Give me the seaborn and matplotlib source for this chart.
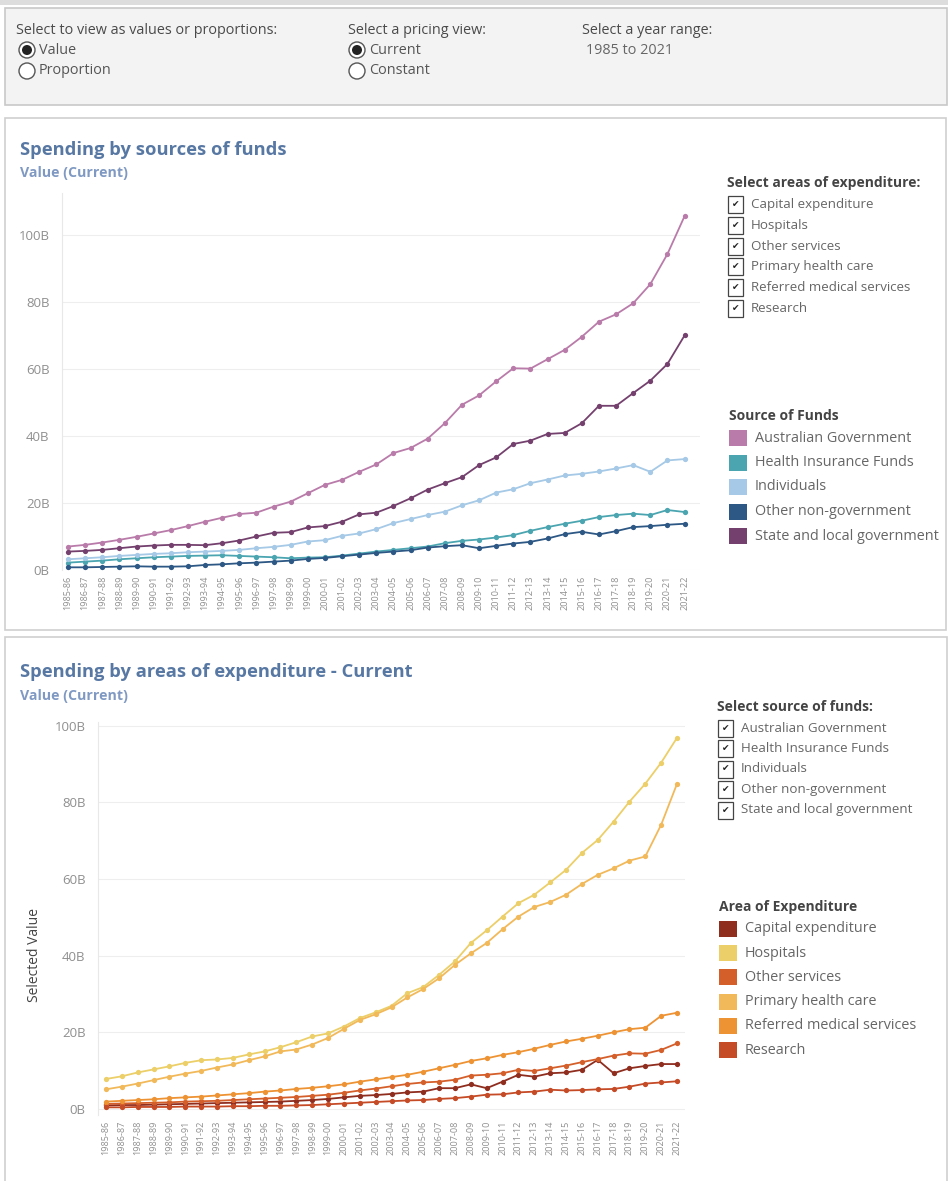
import numpy as np
import pandas as pd
import seaborn as sns
import matplotlib.pyplot as plt
from matplotlib.patches import Rectangle, Circle

# ---- data (billions) ----
years = ["1985-86", "1986-87", "1987-88", "1988-89", "1989-90", "1990-91", "1991-92", "1992-93",
         "1993-94", "1994-95", "1995-96", "1996-97", "1997-98", "1998-99", "1999-00", "2000-01",
         "2001-02", "2002-03", "2003-04", "2004-05", "2005-06", "2006-07", "2007-08", "2008-09",
         "2009-10", "2010-11", "2011-12", "2012-13", "2013-14", "2014-15", "2015-16", "2016-17",
         "2017-18", "2018-19", "2019-20", "2020-21", "2021-22"]

aus_gov = [7.0, 7.5, 8.2, 9.0, 9.9, 10.9, 11.9, 13.1, 14.4, 15.6, 16.7, 17.1, 18.9, 20.4, 22.9, 25.4,
           26.9, 29.3, 31.5, 34.9, 36.4, 39.2, 43.8, 49.3, 52.1, 56.3, 60.2, 60.1, 62.9, 65.7, 69.6,
           74.1, 76.3, 79.6, 85.3, 94.3, 105.6]
health_ins = [2.2, 2.5, 2.8, 3.2, 3.5, 3.8, 4.0, 4.2, 4.3, 4.4, 4.2, 4.0, 3.8, 3.5, 3.7, 3.8, 4.3,
              4.9, 5.5, 6.0, 6.5, 7.0, 8.0, 8.7, 9.1, 9.7, 10.4, 11.7, 12.8, 13.8, 14.7, 15.8, 16.4,
              16.8, 16.4, 17.9, 17.3]
individuals = [3.2, 3.5, 3.8, 4.2, 4.5, 4.8, 5.0, 5.3, 5.5, 5.7, 6.0, 6.5, 6.9, 7.5, 8.5, 8.9, 10.2,
               10.9, 12.2, 14.0, 15.2, 16.4, 17.4, 19.3, 20.8, 23.1, 24.1, 25.9, 27.0, 28.2, 28.7,
               29.4, 30.3, 31.3, 29.3, 32.7, 33.1]
other_nongov = [0.8, 0.8, 0.9, 1.0, 1.1, 1.0, 1.0, 1.1, 1.5, 1.7, 2.0, 2.2, 2.5, 2.8, 3.3, 3.6, 4.1,
                4.6, 5.1, 5.5, 5.9, 6.7, 7.1, 7.4, 6.5, 7.2, 7.9, 8.4, 9.4, 10.7, 11.4, 10.6, 11.6,
                12.8, 13.1, 13.5, 13.8]
state_local = [5.5, 5.7, 6.0, 6.5, 7.0, 7.3, 7.5, 7.5, 7.4, 8.0, 8.8, 10.0, 11.1, 11.3, 12.7, 13.1,
               14.4, 16.6, 17.1, 19.1, 21.4, 24.0, 25.9, 27.7, 31.3, 33.6, 37.6, 38.6, 40.6, 40.9,
               43.8, 49.0, 49.0, 52.8, 56.5, 61.5, 70.0]

capital = [0.9, 1.0, 1.0, 1.1, 1.2, 1.3, 1.4, 1.5, 1.6, 1.7, 1.8, 1.9, 2.1, 2.3, 2.6, 3.0, 3.4, 3.6,
           3.9, 4.3, 4.5, 5.4, 5.4, 6.4, 5.4, 7.1, 8.9, 8.4, 9.3, 9.5, 10.2, 12.8, 9.3, 10.6, 11.2,
           11.7, 11.7]
hospitals = [7.8, 8.5, 9.5, 10.3, 11.1, 12.0, 12.7, 12.9, 13.3, 14.2, 15.0, 16.1, 17.4, 18.9, 19.7,
             21.5, 23.7, 25.2, 26.9, 30.2, 31.8, 35.0, 38.5, 43.3, 46.6, 50.2, 53.7, 55.9, 59.1,
             62.4, 66.8, 70.2, 75.0, 80.2, 84.9, 90.4, 96.9]
other_services = [1.3, 1.4, 1.5, 1.6, 1.7, 1.9, 2.0, 2.1, 2.3, 2.5, 2.7, 2.9, 3.1, 3.4, 3.7, 4.2,
                  4.8, 5.3, 5.9, 6.5, 6.9, 7.1, 7.6, 8.7, 8.9, 9.3, 10.2, 9.9, 10.6, 11.3, 12.2,
                  13.0, 13.9, 14.5, 14.4, 15.4, 17.1]
primary = [5.1, 5.8, 6.6, 7.5, 8.4, 9.2, 9.9, 10.8, 11.6, 12.7, 13.7, 15.0, 15.5, 16.8, 18.5, 20.9,
           23.2, 24.7, 26.5, 29.1, 31.3, 34.1, 37.6, 40.6, 43.3, 46.9, 50.2, 52.7, 54.0, 55.9, 58.7,
           61.1, 62.8, 64.8, 65.9, 74.2, 84.9]
referred = [1.9, 2.1, 2.3, 2.5, 2.8, 3.0, 3.2, 3.5, 3.8, 4.1, 4.5, 4.8, 5.2, 5.5, 5.9, 6.4, 7.1, 7.7,
            8.3, 8.9, 9.7, 10.6, 11.5, 12.5, 13.2, 14.1, 14.8, 15.7, 16.7, 17.6, 18.3, 19.1, 20.0,
            20.8, 21.2, 24.3, 25.1]
research = [0.4, 0.4, 0.5, 0.5, 0.5, 0.6, 0.6, 0.6, 0.7, 0.7, 0.8, 0.8, 0.9, 1.0, 1.2, 1.4, 1.6, 1.8,
            2.0, 2.2, 2.3, 2.6, 2.8, 3.2, 3.7, 3.8, 4.3, 4.5, 5.0, 4.8, 4.9, 5.1, 5.2, 5.8, 6.6, 6.9,
            7.2]

sources = ["Australian Government", "Health Insurance Funds", "Individuals",
           "Other non-government", "State and local government"]
source_colors = ["#b97ba9", "#4aa5b1", "#a5c9e6", "#2d5784", "#74416e"]
areas = ["Capital expenditure", "Hospitals", "Other services", "Primary health care",
         "Referred medical services", "Research"]
area_colors = ["#8f2d1f", "#eccf68", "#d55f2b", "#f2b95a", "#ee9334", "#c54a26"]
y_ticks = [0, 20, 40, 60, 80, 100]
y_tick_labels = ["0B", "20B", "40B", "60B", "80B", "100B"]

W, H = 948, 1181
sns.set_theme(style="white")
plt.rcParams["font.family"] = ["Open Sans", "DejaVu Sans"]

fig = plt.figure(figsize=(W / 100, H / 100), dpi=100)
fig.patch.set_facecolor("white")

# overlay axes in pixel coordinates for the dashboard furniture
ui = fig.add_axes([0, 0, 1, 1], zorder=0)
ui.set_xlim(0, W)
ui.set_ylim(H, 0)
ui.axis("off")

ui.add_patch(Rectangle((0, 0), W, 5, facecolor="#dddddd", edgecolor="none"))
ui.add_patch(Rectangle((5, 8), 942, 97, facecolor="#f3f3f3", edgecolor="#c8c8c8", lw=1.2))
ui.add_patch(Rectangle((5, 118), 941, 512, facecolor="white", edgecolor="#cfcfcf", lw=1.2))
ui.add_patch(Rectangle((5, 637), 942, 560, facecolor="white", edgecolor="#cfcfcf", lw=1.2))

ctl = "#4a4a4a"
fs = 10.4
ui.text(16, 30, "Select to view as values or proportions:", fontsize=fs, color=ctl, va="center")
ui.text(348, 30, "Select a pricing view:", fontsize=fs, color=ctl, va="center")
ui.text(582, 30, "Select a year range:", fontsize=fs, color=ctl, va="center")
ui.text(586, 51, "1985 to 2021", fontsize=fs, color="#666666", va="center")


def radio(x, y, label, on):
    ui.add_patch(Circle((x, y), 8, facecolor="white", edgecolor="#555555", lw=1.0))
    if on:
        ui.add_patch(Circle((x, y), 5, facecolor="#222222", edgecolor="none"))
    ui.text(x + 12, y, label, fontsize=fs, color="#555555", va="center")


radio(27, 50, "Value", True)
radio(27, 71, "Proportion", False)
radio(357, 50, "Current", True)
radio(357, 71, "Constant", False)

title_c = "#5878a4"
sub_c = "#7f99c2"
ui.text(20, 150, "Spending by sources of funds", fontsize=13.2, fontweight="bold", color=title_c, va="center")
ui.text(20, 173, "Value (Current)", fontsize=10.2, fontweight="bold", color=sub_c, va="center")
ui.text(20, 672, "Spending by areas of expenditure - Current", fontsize=13.2, fontweight="bold",
        color=title_c, va="center")
ui.text(20, 696, "Value (Current)", fontsize=10.2, fontweight="bold", color=sub_c, va="center")
ui.text(35, 955, "Selected Value", fontsize=10, color="#444444", rotation=90, va="center", ha="center")


def checklist(x, y0, step, title, items):
    ui.text(x, y0 - 21, title, fontsize=10, fontweight="bold", color="#444444", va="center")
    for i, name in enumerate(items):
        y = y0 + i * step
        ui.add_patch(Rectangle((x + 1, y - 8.5), 15, 17, facecolor="white", edgecolor="#444444", lw=0.9))
        ui.text(x + 8.5, y, "\u2714", fontsize=6.5, color="#222222", va="center", ha="center",
                family=["DejaVu Sans"])
        ui.text(x + 24, y, name, fontsize=9.6, color="#666666", va="center")


def swatches(x, y0, step, title, items, colors):
    ui.text(x, y0 - 22, title, fontsize=10, fontweight="bold", color="#444444", va="center")
    for i, (name, c) in enumerate(zip(items, colors)):
        y = y0 + i * step
        ui.add_patch(Rectangle((x, y - 8), 18, 16, facecolor=c, edgecolor="none"))
        ui.text(x + 26, y, name, fontsize=10.4, color="#666666", va="center")


checklist(727, 204.5, 20.8, "Select areas of expenditure:", areas)
swatches(729, 438, 24.5, "Source of Funds", sources, source_colors)
checklist(717, 728, 20.5, "Select source of funds:", sources)
swatches(719, 929, 24.2, "Area of Expenditure", areas, area_colors)

# ---- line charts ----
top = pd.DataFrame({
    "year": years * 5,
    "source": np.repeat(sources, len(years)),
    "value": aus_gov + health_ins + individuals + other_nongov + state_local,
})
bottom = pd.DataFrame({
    "year": years * 6,
    "area": np.repeat(areas, len(years)),
    "value": capital + hospitals + other_services + primary + referred + research,
})


def px_axes(left, top_, right, bottom_):
    return fig.add_axes([left / W, 1 - bottom_ / H, (right - left) / W, (bottom_ - top_) / H], zorder=2)


def style(ax, xlim, ylim):
    ax.set_facecolor("none")
    ax.set_xlim(*xlim)
    ax.set_ylim(*ylim)
    ax.set_yticks(y_ticks)
    ax.set_yticklabels(y_tick_labels)
    ax.set_xlabel("")
    ax.set_ylabel("")
    ax.grid(axis="y", color="#eeeeee", lw=0.8)
    ax.grid(axis="x", visible=False)
    for s in ["top", "right", "bottom"]:
        ax.spines[s].set_visible(False)
    ax.spines["left"].set_color("#e8e8e8")
    ax.spines["left"].set_linewidth(0.8)
    ax.tick_params(axis="y", length=0, labelsize=9.5, labelcolor="#8f8f8f", pad=9)
    ax.tick_params(axis="x", length=0, labelsize=6.6, labelcolor="#8f8f8f", rotation=90, pad=4)


ax1 = px_axes(62, 193, 700, 570)
sns.lineplot(data=top, x="year", y="value", hue="source", hue_order=sources,
             palette=dict(zip(sources, source_colors)), marker="o", markersize=3.8,
             markeredgewidth=0, linewidth=1.3, legend=False, sort=False, ax=ax1)
style(ax1, (-0.35, 36.9), (0, 112.5))

ax2 = px_axes(98, 722, 685, 1115)
sns.lineplot(data=bottom, x="year", y="value", hue="area", hue_order=areas,
             palette=dict(zip(areas, area_colors)), marker="o", markersize=3.8,
             markeredgewidth=0, linewidth=1.3, legend=False, sort=False, ax=ax2)
style(ax2, (-0.5, 36.5), (-1.6, 101))

fig.savefig("out.png", dpi=100)
